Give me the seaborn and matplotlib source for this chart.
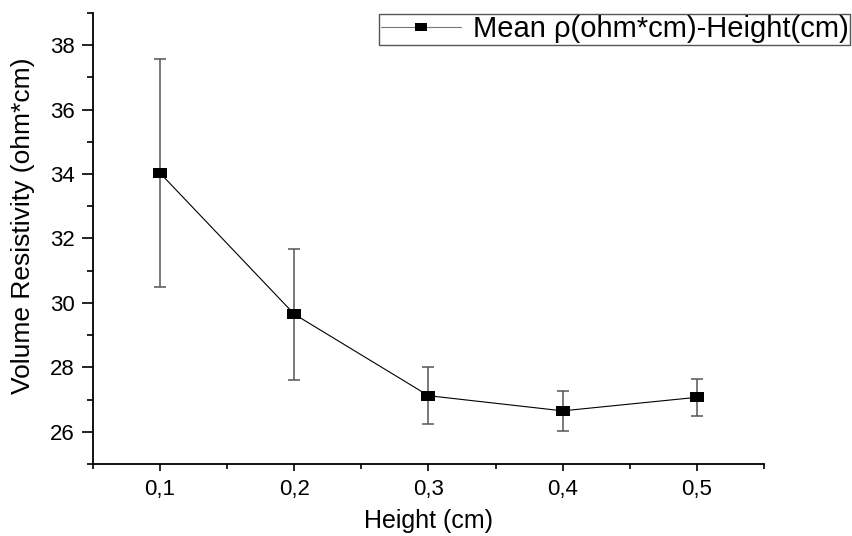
import matplotlib
matplotlib.use("Agg")
import matplotlib.pyplot as plt
import seaborn as sns
import pandas as pd
from matplotlib.ticker import MultipleLocator

height_cm = [0.1, 0.2, 0.3, 0.4, 0.5]
mean_rho = [34.03, 29.65, 27.12, 26.65, 27.07]
err_rho = [3.55, 2.03, 0.88, 0.63, 0.58]
x_tick_labels = ["0,1", "0,2", "0,3", "0,4", "0,5"]
y_ticks = [26, 28, 30, 32, 34, 36, 38]
series_label = "Mean \u03c1(ohm*cm)-Height(cm)"

df = pd.DataFrame({"Height": height_cm, "Mean": mean_rho, "Err": err_rho})

sns.set_style("ticks")
plt.rcParams["font.family"] = ["Liberation Sans", "DejaVu Sans"]
plt.rcParams["text.color"] = "black"
plt.rcParams["axes.labelcolor"] = "black"
plt.rcParams["xtick.color"] = "black"
plt.rcParams["ytick.color"] = "black"

fig = plt.figure(figsize=(8.52, 5.36), dpi=100)
ax = fig.add_axes([93 / 852, 72 / 536, (764 - 93) / 852, (464 - 13) / 536])

rect = [(-1.45, -1), (1.45, -1), (1.45, 1), (-1.45, 1), (-1.45, -1)]

ax.errorbar(df["Height"], df["Mean"], yerr=df["Err"], fmt="none",
            ecolor="#555555", elinewidth=1.1, capsize=4.5, capthick=1.1, zorder=2)
sns.lineplot(data=df, x="Height", y="Mean", ax=ax, color="black", linewidth=0.8,
             marker=rect, markersize=9.5, markeredgewidth=0, markerfacecolor="black",
             label=series_label, zorder=3, errorbar=None)

ax.set_xlim(0.05, 0.55)
ax.set_ylim(25, 39)
ax.set_xticks(height_cm)
ax.set_xticklabels(x_tick_labels)
ax.set_yticks(y_ticks)
ax.xaxis.set_minor_locator(MultipleLocator(0.05))
ax.yaxis.set_minor_locator(MultipleLocator(1))

for s in ["top", "right"]:
    ax.spines[s].set_visible(False)
for s in ["left", "bottom"]:
    ax.spines[s].set_linewidth(1.3)
    ax.spines[s].set_color("black")

ax.tick_params(axis="y", which="major", direction="out", length=8, width=1.2, labelsize=16, pad=5,
               color="black", labelcolor="black")
ax.tick_params(axis="y", which="minor", direction="out", length=4, width=1.2, color="black")
ax.tick_params(axis="x", which="major", direction="out", length=5, width=1.2, labelsize=16, pad=6,
               color="black", labelcolor="black")
ax.tick_params(axis="x", which="minor", direction="out", length=3.5, width=1.2, color="black")

ax.set_xlabel("Height (cm)", fontsize=18, labelpad=6, color="black")
ax.set_ylabel("Volume Resistivity (ohm*cm)", fontsize=19, color="black")
ax.yaxis.set_label_coords(-0.087, 0.528)

leg = ax.legend(loc="upper right", bbox_to_anchor=(850 / 852, 1 - 14 / 536),
                bbox_transform=fig.transFigure, borderaxespad=0, fontsize=21,
                frameon=True, fancybox=False, framealpha=1, edgecolor="#555555",
                handlelength=2.75, handletextpad=0.4, borderpad=0.05, labelcolor="black")
leg.get_frame().set_linewidth(1.0)
for h in leg.legend_handles:
    h.set_color("#777777")
    h.set_markerfacecolor("black")
    h.set_markersize(8)

fig.savefig("out.png", dpi=100)
